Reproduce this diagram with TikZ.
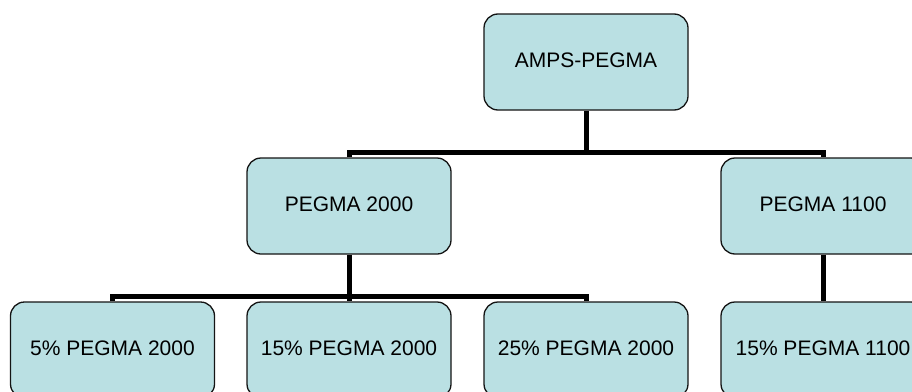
\documentclass[tikz,border=0pt]{standalone}
\usepackage{fontspec}
\setmainfont{Liberation Sans}
\definecolor{boxfill}{RGB}{186,224,227}
\definecolor{boxline}{RGB}{20,20,20}
\newcommand{\boxtext}[1]{\raisebox{4pt}{#1}}
\begin{document}
\begin{tikzpicture}[x=1pt,y=-1pt,
  orgbox/.style={draw=boxline,fill=boxfill,line width=1.3pt,rounded corners=14pt,
    minimum width=204pt,minimum height=96pt,inner sep=0pt,
    font=\fontsize{21}{25}\selectfont,text=black},
  conn/.style={line width=5pt,black,line join=miter}]
\useasboundingbox (0,0) rectangle (912,391);
\coordinate (bus1) at (586,152);
\coordinate (bus2) at (349,296);
\node[orgbox] (root)  at (586,62)  {\boxtext{AMPS-PEGMA}};
\node[orgbox] (p2000) at (349,206) {\boxtext{PEGMA 2000}};
\node[orgbox] (p1100) at (823,206) {\boxtext{PEGMA 1100}};
\node[orgbox] (c5)    at (112.5,350) {\boxtext{5\% PEGMA 2000}};
\node[orgbox] (c15)   at (349,350) {\boxtext{15\% PEGMA 2000}};
\node[orgbox] (c25)   at (586,350) {\boxtext{25\% PEGMA 2000}};
\node[orgbox] (c1100) at (823,350) {\boxtext{15\% PEGMA 1100}};
\draw[conn] (root.south) -- (bus1);
\draw[conn] (p2000.north) |- (bus1) -| (p1100.north);
\draw[conn] (p2000.south) -- (bus2);
\draw[conn] (c5.north) |- (bus2) -| (c25.north);
\draw[conn] (bus2) -- (c15.north);
\draw[conn] (p1100.south) -- (c1100.north);
\end{tikzpicture}
\end{document}
